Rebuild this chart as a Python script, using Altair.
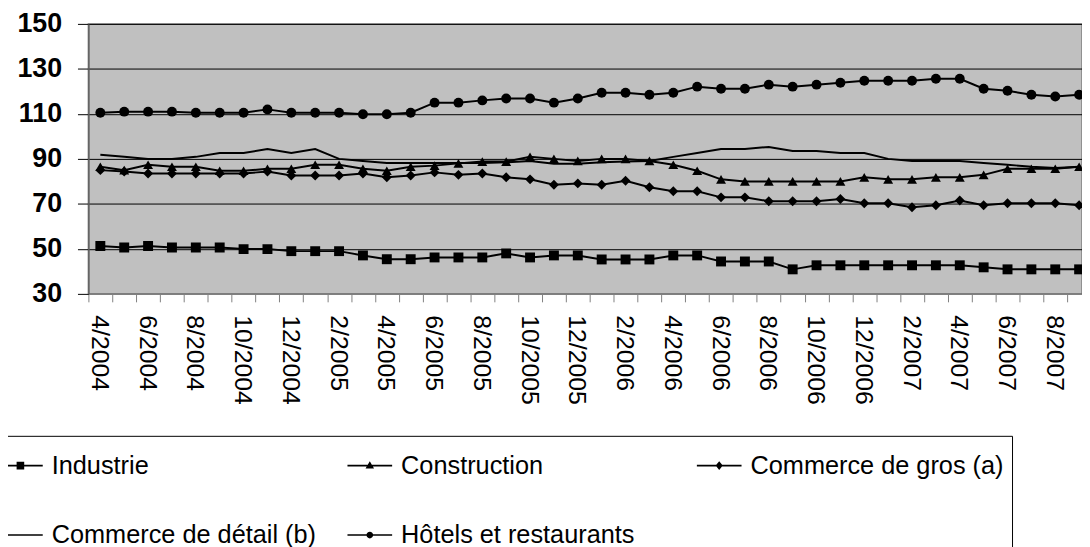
import altair as alt
import pandas as pd

months = ["4/2004", "5/2004", "6/2004", "7/2004", "8/2004", "9/2004", "10/2004", "11/2004", "12/2004",
          "1/2005", "2/2005", "3/2005", "4/2005", "5/2005", "6/2005", "7/2005", "8/2005", "9/2005",
          "10/2005", "11/2005", "12/2005", "1/2006", "2/2006", "3/2006", "4/2006", "5/2006", "6/2006",
          "7/2006", "8/2006", "9/2006", "10/2006", "11/2006", "12/2006", "1/2007", "2/2007", "3/2007",
          "4/2007", "5/2007", "6/2007", "7/2007", "8/2007", "9/2007"]

industrie = [51.3, 50.6, 51.3, 50.6, 50.6, 50.6, 49.9, 49.9, 49.0, 49.0, 49.0, 47.1, 45.4, 45.4,
             46.2, 46.2, 46.2, 48.0, 46.2, 47.1, 47.1, 45.3, 45.3, 45.3, 47.1, 47.1, 44.4, 44.4,
             44.4, 40.9, 42.7, 42.7, 42.7, 42.7, 42.7, 42.7, 42.7, 41.8, 40.9, 40.9, 40.9, 40.9]
construction = [86.5, 85.0, 87.4, 86.5, 86.5, 84.7, 84.7, 85.6, 85.6, 87.4, 87.4, 85.6, 84.7, 86.5,
                87.0, 88.0, 88.8, 88.8, 90.9, 90.0, 89.1, 90.0, 90.0, 89.1, 87.4, 84.7, 80.9, 80.0,
                80.0, 80.0, 80.0, 80.0, 81.8, 80.9, 80.9, 81.8, 81.8, 82.9, 85.6, 85.6, 85.6, 86.5]
gros = [85.0, 84.4, 83.5, 83.5, 83.5, 83.5, 83.5, 84.4, 82.6, 82.6, 82.6, 83.5, 81.8, 82.6,
        84.0, 82.9, 83.5, 81.8, 80.9, 78.5, 79.1, 78.5, 80.3, 77.4, 75.6, 75.6, 72.9, 72.9,
        71.2, 71.2, 71.2, 72.2, 70.3, 70.3, 68.5, 69.4, 71.5, 69.4, 70.3, 70.3, 70.3, 69.4]
detail = [91.8, 90.9, 90.0, 90.0, 90.9, 92.6, 92.6, 94.4, 92.6, 94.4, 90.0, 89.1, 88.2, 88.2,
          88.2, 88.2, 88.2, 88.5, 89.1, 87.8, 87.8, 88.5, 88.8, 89.1, 90.9, 92.6, 94.4, 94.4,
          95.3, 93.5, 93.5, 92.6, 92.6, 90.0, 89.1, 89.1, 89.1, 88.2, 87.4, 86.5, 85.9, 86.5]
hotels = [110.5, 111.0, 111.0, 111.0, 110.5, 110.5, 110.5, 112.0, 110.5, 110.5, 110.5, 109.8, 109.8, 110.5,
          115.0, 115.0, 116.0, 116.8, 116.8, 115.0, 116.8, 119.4, 119.4, 118.5, 119.4, 122.1, 121.2, 121.2,
          123.0, 122.1, 123.0, 123.8, 124.7, 124.7, 124.7, 125.6, 125.6, 121.2, 120.3, 118.5, 117.7, 118.5]

series_names = ["Industrie", "Construction", "Commerce de gros (a)",
                "Commerce de détail (b)", "Hôtels et restaurants"]
series_values = [industrie, construction, gros, detail, hotels]
y_ticks = [30, 50, 70, 90, 110, 130, 150]

rows = []
for name, vals in zip(series_names, series_values):
    for i, v in enumerate(vals):
        rows.append({"serie": name, "idx": i, "mois": months[i], "valeur": v})
df = pd.DataFrame(rows)

FONT = "Liberation Sans, Arial, sans-serif"

xscale = alt.Scale(domain=[-0.5, 41.12], nice=False, zero=False)
yscale = alt.Scale(domain=[30, 150], nice=False, zero=False)

months_js = "[" + ",".join("'" + m + "'" for m in months) + "]"
label_expr = ("(round(datum.value + 0.5) % 2 == 0) ? " + months_js +
              "[round(datum.value + 0.5)] : ''")

x_axis = alt.Axis(values=[k - 0.5 for k in range(len(months))], labelExpr=label_expr,
                  labelAngle=90, labelOffset=11, tickSize=8, tickColor="#808080",
                  domainColor="#808080", domainWidth=1.5, labelPadding=13, labelFontSize=25,
                  labelFont=FONT, labelColor="black", grid=False, title=None,
                  labelOverlap=False, labelBound=False, labelFlush=False)
y_axis = alt.Axis(values=y_ticks, labelFontSize=27, labelFontWeight="bold", labelFont=FONT,
                  labelColor="black", tickSize=11, tickColor="black", domainColor="#606060",
                  domainWidth=1.5, grid=True, gridColor="black", gridWidth=1, labelPadding=16,
                  title=None)

base = alt.Chart(df).encode(
    x=alt.X("idx:Q", scale=xscale, axis=x_axis),
    y=alt.Y("valeur:Q", scale=yscale, axis=y_axis),
)

lines = base.mark_line(color="black", strokeWidth=2, clip=True).encode(detail="serie:N")

marker_names = ["Industrie", "Construction", "Commerce de gros (a)", "Hôtels et restaurants"]
points = base.transform_filter(
    alt.FieldOneOfPredicate(field="serie", oneOf=marker_names)
).mark_point(filled=True, color="black", opacity=1, size=100, clip=True).encode(
    shape=alt.Shape("serie:N",
                    scale=alt.Scale(domain=marker_names,
                                    range=["square", "triangle-up", "diamond", "circle"]),
                    legend=None)
)

bar = "M-1,-0.035L1,-0.035L1,0.035L-1,0.035Z"
legend_paths = [
    bar + "M-0.17,-0.17L0.17,-0.17L0.17,0.17L-0.17,0.17Z",
    bar + "M0,-0.2L0.19,0.13L-0.19,0.13Z",
    bar + "M0,-0.2L0.16,0L0,0.2L-0.16,0Z",
    bar,
    bar + "M-0.15,0A0.15,0.15,0,1,1,0.15,0A0.15,0.15,0,1,1,-0.15,0Z",
]

legend_layer = base.mark_point(filled=True, color="black", opacity=0).encode(
    shape=alt.Shape("serie:N",
                    scale=alt.Scale(domain=series_names, range=legend_paths),
                    legend=alt.Legend(title=None, orient="none", direction="horizontal",
                                      legendX=-98.5, legendY=415,
                                      columns=3, gridAlign="all", columnPadding=31,
                                      rowPadding=34, symbolSize=2025, symbolStrokeWidth=0,
                                      symbolFillColor="black", symbolOpacity=1,
                                      labelFontSize=25.5, labelFont=FONT, labelColor="black",
                                      labelOffset=9, labelLimit=600, padding=7.5,
                                      strokeColor="black", fillColor="white", cornerRadius=0))
)

chart = alt.layer(lines, points, legend_layer).resolve_scale(shape="independent").properties(
    width=1001,
    height=272,
    autosize=alt.AutoSizeParams(type="none"),
    padding={"left": 81, "top": 14, "right": 0, "bottom": 253},
).configure(
    background="white",
    view=alt.ViewConfig(fill="#c0c0c0", stroke="#808080", strokeWidth=1.5),
)

chart.save("out.html", embed_options={"renderer": "svg", "actions": False})
